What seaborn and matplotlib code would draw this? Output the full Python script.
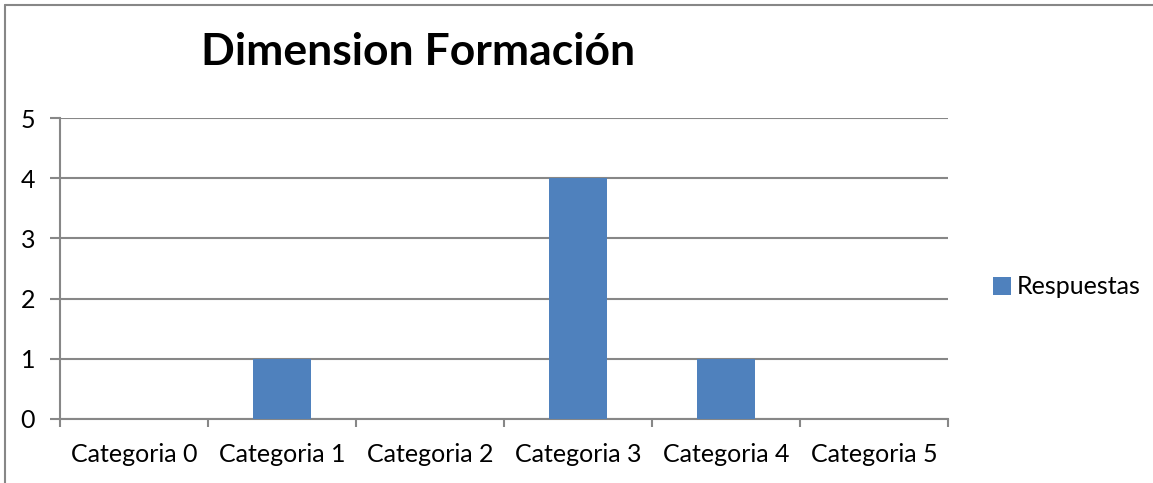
import matplotlib
matplotlib.use("Agg")
import matplotlib.pyplot as plt
import seaborn as sns
import pandas as pd
from matplotlib.lines import Line2D
from matplotlib.patches import Patch

categories = ["Categoria 0", "Categoria 1", "Categoria 2", "Categoria 3", "Categoria 4", "Categoria 5"]
respuestas = [0, 1, 0, 4, 1, 0]
yticks = [0, 1, 2, 3, 4, 5]
title = "Dimension Formación"
series_name = "Respuestas"

sns.set_theme(style="white")
plt.rcParams['font.family'] = ['Lato', 'DejaVu Sans']
plt.rcParams['text.color'] = 'black'

df = pd.DataFrame({"cat": categories, "val": respuestas})
bar_color = "#4F81BD"
grid_color = "#878787"

fig = plt.figure(figsize=(11.53, 4.83), dpi=100)
ax = fig.add_axes([60/1153, 1-419/483, (948-60)/1153, (419-118)/483])
sns.barplot(data=df, x="cat", y="val", color=bar_color, width=0.39, ax=ax,
            saturation=1, zorder=3)
for p in ax.patches:
    p.set_edgecolor("none")

ax.set_xlim(-0.5, 5.5)
ax.set_ylim(0, 5)
ax.set_yticks(yticks)
ax.set_yticklabels([str(t) for t in yticks], fontsize=18)
ax.set_xlabel("")
ax.set_ylabel("")
ax.set_xticks(range(len(categories)))
ax.set_xticklabels(categories, fontsize=18)
ax.set_xticks([i - 0.5 for i in range(len(categories) + 1)], minor=True)
ax.tick_params(axis="x", which="major", length=0, pad=17, labelcolor="black")
ax.tick_params(axis="x", which="minor", length=6, width=1.5, color=grid_color, bottom=True)
ax.tick_params(axis="y", which="major", length=7, width=1.5, color=grid_color, left=True, pad=11, labelcolor="black")
ax.grid(axis="y", color=grid_color, linewidth=1.5, zorder=0)
ax.set_axisbelow(True)
for s in ["top", "right"]:
    ax.spines[s].set_visible(False)
for s in ["left", "bottom"]:
    ax.spines[s].set_color(grid_color)
    ax.spines[s].set_linewidth(1.5)

fig.text(418/1153, 1-52/483, title, ha="center", va="center", fontsize=32,
         fontweight="bold", color="black")

handle = Patch(facecolor=bar_color, edgecolor="none")
fig.legend([handle], [series_name], loc="center left", bbox_to_anchor=(993/1153, 1-287/483),
           frameon=False, fontsize=18, handlelength=0.7, handleheight=0.7, handletextpad=0.25,
           borderpad=0, borderaxespad=0, labelcolor="black")

fig.add_artist(Line2D([5/1153, 5/1153], [0, 1-5/483], color=grid_color, linewidth=1.5, transform=fig.transFigure))
fig.add_artist(Line2D([5/1153, 1], [1-5/483, 1-5/483], color=grid_color, linewidth=1.5, transform=fig.transFigure))

fig.savefig("out.png", dpi=100)
